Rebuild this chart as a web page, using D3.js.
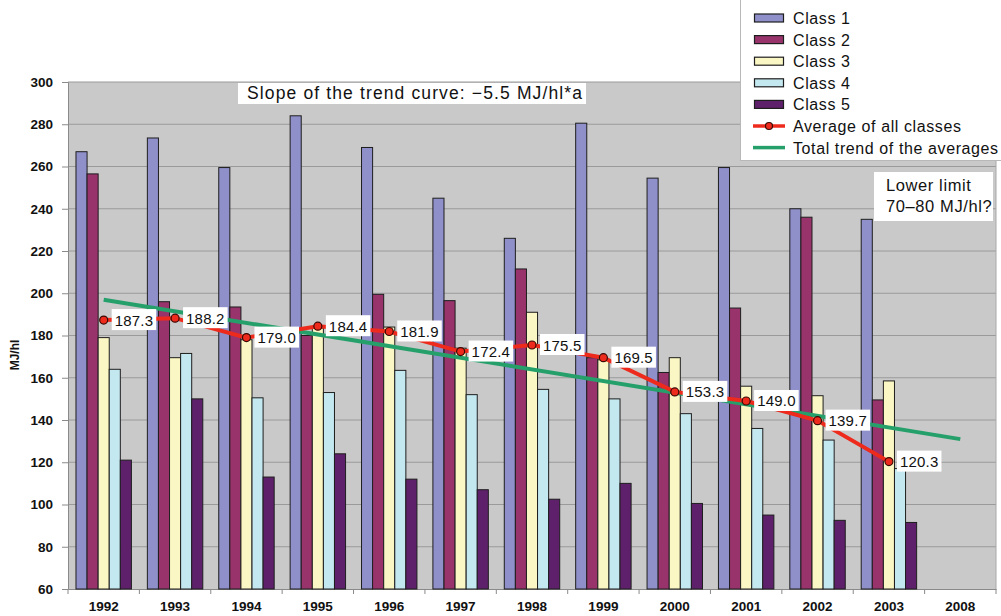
<!DOCTYPE html>
<html>
<head>
<meta charset="utf-8">
<script src="https://cdn.jsdelivr.net/npm/d3@7"></script>
<style>
  html, body { margin: 0; padding: 0; background: #ffffff; }
  svg { display: block; font-family: "Liberation Sans", Arial, Helvetica, sans-serif; }
</style>
</head>
<body>
<svg id="chart" width="1001" height="616"></svg>
<script>
// Energy consumption per hectolitre, by class and year
const years = ["1992", "1993", "1994", "1995", "1996", "1997", "1998", "1999", "2000", "2001", "2002", "2003", "2008"];
const classNames = ["Class 1", "Class 2", "Class 3", "Class 4", "Class 5"];
const class1 = [267, 273.5, 259.5, 284, 269, 245, 226, 280.5, 254.5, 259.5, 240, 235];
const class2 = [256.5, 196, 193.5, 180, 199.5, 196.5, 211.5, 169.5, 162.5, 193, 236, 149.5];
const class3 = [179, 169.5, 178, 183.5, 184, 174, 191, 168.5, 169.5, 156, 151.5, 158.5];
const class4 = [164, 171.5, 150.5, 153, 163.5, 152, 154.5, 150, 143, 136, 130.5, 117];
const class5 = [121, 150, 113, 124, 112, 107, 102.5, 110, 100.5, 95, 92.5, 91.5];
const averages = [187.3, 188.2, 179.0, 184.4, 181.9, 172.4, 175.5, 169.5, 153.3, 149.0, 139.7, 120.3];
const yTicks = [60, 80, 100, 120, 140, 160, 180, 200, 220, 240, 260, 280, 300];
const classColors = ["#8f8fca", "#98346b", "#fbf7c4", "#c4e8f0", "#5f206b"];
const avgColor = "#ee2a1c";
const trendColor = "#25a06b";

const series = [class1, class2, class3, class4, class5];

const svg = d3.select("#chart");
const plot = { left: 68, right: 996, top: 82, bottom: 589 };

const x = d3.scaleBand().domain(years).range([plot.left, plot.right]).paddingInner(0).paddingOuter(0);
const xSub = d3.scaleBand().domain(classNames).range([0, x.bandwidth()]).paddingInner(0).paddingOuter(0.72);
const y = d3.scaleLinear().domain([60, 300]).range([plot.bottom, plot.top]);

// plot wall
svg.append("rect")
  .attr("x", plot.left).attr("y", plot.top)
  .attr("width", plot.right - plot.left).attr("height", plot.bottom - plot.top)
  .attr("fill", "#c9c9c9");

// horizontal gridlines
svg.append("g")
  .selectAll("line")
  .data(yTicks.filter(t => t > 60))
  .join("line")
  .attr("x1", plot.left).attr("x2", plot.right)
  .attr("y1", d => y(d)).attr("y2", d => y(d))
  .attr("stroke", "#9a9a9a").attr("stroke-width", 1);

svg.append("line")
  .attr("x1", plot.right).attr("x2", plot.right)
  .attr("y1", plot.top).attr("y2", plot.bottom)
  .attr("stroke", "#a8a8a8");

// y axis
const yAxis = svg.append("g")
  .attr("transform", `translate(${plot.left},0)`)
  .call(d3.axisLeft(y).tickValues(yTicks).tickSize(6).tickPadding(9).tickFormat(d3.format("d")));
yAxis.select(".domain").attr("stroke", "#8a8a8a");
yAxis.selectAll(".tick line").attr("stroke", "#8a8a8a");
yAxis.selectAll("text")
  .attr("font-size", 13.5).attr("font-weight", "bold").attr("fill", "#111")
  .attr("font-family", "Liberation Sans, Arial, sans-serif");

// x axis
const xAxis = svg.append("g")
  .attr("transform", `translate(0,${plot.bottom})`)
  .call(d3.axisBottom(x).tickSize(0).tickPadding(12));
xAxis.select(".domain").attr("stroke", "#8a8a8a");
xAxis.selectAll("text")
  .attr("font-size", 13.5).attr("font-weight", "bold").attr("fill", "#111")
  .attr("font-family", "Liberation Sans, Arial, sans-serif");
// tick marks between categories
svg.append("g")
  .selectAll("line")
  .data(years)
  .join("line")
  .attr("x1", d => x(d) + x.bandwidth())
  .attr("x2", d => x(d) + x.bandwidth())
  .attr("y1", plot.bottom).attr("y2", plot.bottom + 5)
  .attr("stroke", "#8a8a8a");
svg.append("line")
  .attr("x1", plot.left).attr("x2", plot.left)
  .attr("y1", plot.bottom).attr("y2", plot.bottom + 5)
  .attr("stroke", "#8a8a8a");

// y axis title
svg.append("text")
  .attr("transform", "translate(19,355) rotate(-90)")
  .attr("text-anchor", "middle")
  .attr("font-size", 12).attr("font-weight", "bold").attr("fill", "#111")
  .text("MJ/hl");

// grouped bars
const barRows = [];
series.forEach((vals, si) => {
  vals.forEach((v, yi) => barRows.push({ year: years[yi], cls: classNames[si], value: v, si }));
});
svg.append("g")
  .selectAll("rect")
  .data(barRows)
  .join("rect")
  .attr("x", d => x(d.year) + xSub(d.cls))
  .attr("y", d => y(d.value))
  .attr("width", xSub.bandwidth())
  .attr("height", d => y(60) - y(d.value))
  .attr("fill", d => classColors[d.si])
  .attr("stroke", "#1e1e1e").attr("stroke-width", 1);

// least-squares trend of the averages across the whole category axis
const idx = averages.map((_, i) => i);
const mx = d3.mean(idx), my = d3.mean(averages);
const slope = d3.sum(idx, i => (i - mx) * (averages[i] - my)) / d3.sum(idx, i => (i - mx) ** 2);
const intercept = my - slope * mx;
const cx = i => x(years[i]) + x.bandwidth() / 2;
const trendEnds = [0, years.length - 1];

svg.append("path")
  .datum(trendEnds)
  .attr("d", d3.line().x(i => cx(i)).y(i => y(intercept + slope * i)))
  .attr("stroke", trendColor).attr("stroke-width", 4).attr("fill", "none");

// averages line
svg.append("path")
  .datum(averages)
  .attr("d", d3.line().x((d, i) => cx(i)).y(d => y(d)))
  .attr("stroke", avgColor).attr("stroke-width", 4).attr("fill", "none");

svg.append("g")
  .selectAll("circle")
  .data(averages)
  .join("circle")
  .attr("cx", (d, i) => cx(i)).attr("cy", d => y(d)).attr("r", 4)
  .attr("fill", avgColor).attr("stroke", "#3a0a05").attr("stroke-width", 1.2);

// value labels
const labels = svg.append("g");
averages.forEach((v, i) => {
  const g = labels.append("g");
  const t = g.append("text")
    .attr("x", cx(i) + 11).attr("y", y(v) + 5.5)
    .attr("font-size", 15).attr("letter-spacing", 0.2).attr("fill", "#111")
    .text(v.toFixed(1));
  const bb = t.node().getBBox();
  g.insert("rect", "text")
    .attr("x", bb.x - 3).attr("y", y(v) - 11)
    .attr("width", bb.width + 6).attr("height", 21)
    .attr("fill", "#ffffff");
});

// slope annotation
const slopeG = svg.append("g");
slopeG.append("rect")
  .attr("x", 238).attr("y", 83)
  .attr("width", 348).attr("height", 21)
  .attr("fill", "#ffffff");
slopeG.append("text")
  .attr("x", 247).attr("y", 99)
  .attr("font-size", 17.5).attr("fill", "#111")
  .attr("textLength", 335).attr("lengthAdjust", "spacing")
  .text("Slope of the trend curve: \u22125.5 MJ/hl*a");

// lower limit note
const noteG = svg.append("g");
noteG.append("rect")
  .attr("x", 874).attr("y", 172).attr("width", 119).attr("height", 49)
  .attr("fill", "#ffffff");
noteG.append("text")
  .attr("x", 886).attr("y", 191)
  .attr("font-size", 16.5).attr("letter-spacing", 0.6).attr("fill", "#111")
  .text("Lower limit");
noteG.append("text")
  .attr("x", 886).attr("y", 212)
  .attr("font-size", 16.5).attr("letter-spacing", 0.6).attr("fill", "#111")
  .text("70\u201380 MJ/hl?");

// legend
const legend = svg.append("g");
legend.append("rect")
  .attr("x", 740.5).attr("y", -2).attr("width", 270).attr("height", 162.5)
  .attr("fill", "#ffffff").attr("stroke", "#b8b8b8").attr("stroke-width", 1);
const rowY = i => 18 + i * 21.6;
const legendText = (i, s) => legend.append("text")
  .attr("x", 793).attr("y", rowY(i) + 6)
  .attr("font-size", 16).attr("letter-spacing", 0.6).attr("fill", "#111")
  .text(s);
classNames.forEach((name, i) => {
  legend.append("rect")
    .attr("x", 754.5).attr("y", rowY(i) - 4).attr("width", 29).attr("height", 8)
    .attr("fill", classColors[i]).attr("stroke", "#1e1e1e").attr("stroke-width", 1.2);
  legendText(i, name);
});
legend.append("line")
  .attr("x1", 753).attr("x2", 785).attr("y1", rowY(5)).attr("y2", rowY(5))
  .attr("stroke", avgColor).attr("stroke-width", 3.5);
legend.append("circle")
  .attr("cx", 769).attr("cy", rowY(5)).attr("r", 3.5)
  .attr("fill", avgColor).attr("stroke", "#3a0a05").attr("stroke-width", 1.2);
legendText(5, "Average of all classes");
legend.append("line")
  .attr("x1", 753).attr("x2", 785).attr("y1", rowY(6)).attr("y2", rowY(6))
  .attr("stroke", trendColor).attr("stroke-width", 3.5);
legendText(6, "Total trend of the averages");
</script>
</body>
</html>
